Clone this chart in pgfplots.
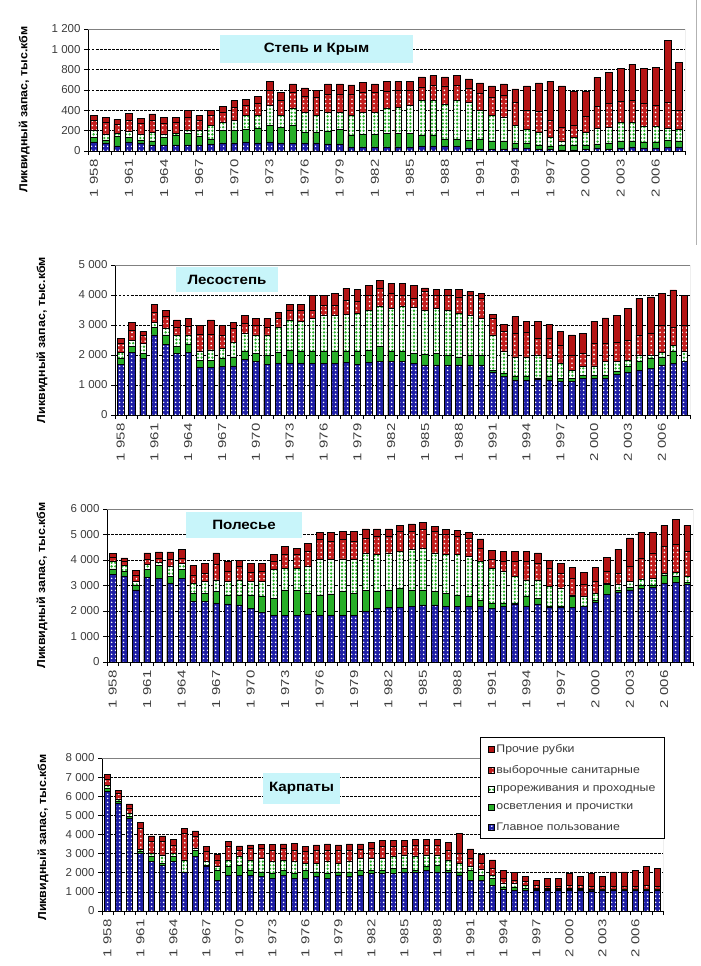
\documentclass[border=0pt]{standalone}
\usepackage{fontspec}
\setmainfont{Liberation Sans}
\usepackage{pgfplots}
\pgfplotsset{compat=1.18}
\usepackage{pgfplotstable}
\usetikzlibrary{patterns.meta}

\definecolor{blueS}{RGB}{30,30,165}
\definecolor{greenS}{RGB}{40,175,40}
\definecolor{redA}{RGB}{195,30,30}
\definecolor{redB}{RGB}{180,20,20}
\definecolor{boxcyan}{RGB}{200,245,250}
\definecolor{txtgray}{RGB}{60,60,60}

% columns: top of each layer, bottom to top
% a = Главное пользование, b = осветления, c = прореживания, d = выборочные санитарные, e = прочие (total)
\pgfplotstableread{
yr a b c d e
1958 90 130 200 300 350
1959 80 110 160 280 330
1960 50 140 170 260 310
1961 90 130 190 300 370
1962 80 110 160 270 320
1963 60 100 180 300 365
1964 60 130 160 270 330
1965 60 150 170 280 330
1966 60 170 200 330 400
1967 60 140 200 300 350
1968 70 120 250 350 400
1969 80 200 280 380 435
1970 80 200 300 430 495
1971 90 210 350 450 510
1972 80 220 350 470 535
1973 90 250 450 600 685
1974 80 230 350 500 575
1975 80 250 420 580 660
1976 80 180 380 540 620
1977 80 180 350 530 600
1978 70 190 380 560 660
1979 70 210 380 560 660
1980 40 150 350 560 650
1981 40 160 380 580 675
1982 40 160 380 580 660
1983 40 170 420 590 685
1984 40 170 430 600 685
1985 40 170 450 600 685
1986 50 150 500 630 728
1987 50 150 500 650 740
1988 50 120 460 640 728
1989 50 120 500 650 740
1990 30 110 480 620 710
1991 20 120 400 570 670
1992 20 100 350 530 640
1993 20 100 330 550 660
1994 30 80 250 480 610
1995 30 80 210 400 640
1996 20 60 180 390 670
1997 20 50 130 300 685
1998 10 60 100 230 640
1999 10 60 130 250 590
2000 20 60 180 340 590
2001 30 70 220 440 725
2002 20 80 230 470 770
2003 30 100 280 490 810
2004 40 100 280 500 855
2005 30 90 240 470 810
2006 30 90 240 450 825
2007 40 110 220 480 1090
2008 40 100 210 400 870
}\steppe

\pgfplotstableread{
yr a b c d e
1958 1700 1900 2100 2390 2550
1959 2090 2280 2500 2830 3080
1960 1900 2050 2400 2650 2800
1961 2670 2910 3090 3440 3690
1962 2360 2670 2890 3280 3500
1963 2060 2280 2670 2940 3170
1964 2090 2360 2670 2970 3220
1965 1580 1830 2130 2690 2980
1966 1580 1830 2170 2700 3170
1967 1610 1890 2220 2670 3000
1968 1640 1940 2420 2890 3080
1969 1860 2130 2720 3060 3310
1970 1780 2060 2670 2980 3220
1971 1690 2000 2670 2940 3220
1972 1720 2090 2940 3240 3410
1973 1720 2170 3170 3500 3690
1974 1720 2110 3110 3500 3690
1975 1720 2110 3220 3500 4000
1976 1720 2110 3330 3670 4000
1977 1720 2110 3330 3670 4060
1978 1760 2130 3360 3830 4220
1979 1690 2130 3390 3780 4200
1980 1760 2170 3500 4000 4310
1981 1800 2280 3610 4220 4500
1982 1800 2130 3560 4060 4390
1983 1780 2110 3610 4000 4390
1984 1720 2060 3580 3890 4310
1985 1670 2020 3500 4110 4240
1986 1670 2060 3560 4000 4200
1987 1670 2000 3500 4000 4200
1988 1670 1940 3390 3940 4200
1989 1670 1980 3330 4000 4110
1990 1670 2000 3220 3890 4060
1991 1440 1500 2670 3220 3360
1992 1280 1390 2130 2780 3030
1993 1170 1280 1940 2720 3280
1994 1170 1280 1940 2760 3130
1995 1200 1240 2000 2560 3130
1996 1170 1280 1890 2560 3020
1997 1130 1220 1720 2330 2800
1998 1110 1220 1500 2000 2670
1999 1220 1330 1610 2060 2720
2000 1220 1310 1640 2390 3130
2001 1220 1330 1780 2390 3240
2002 1360 1470 1780 2440 3330
2003 1440 1610 1830 2500 3560
2004 1500 1780 2000 2670 3890
2005 1560 1890 2000 2720 3940
2006 1670 1940 2090 3000 4060
2007 1720 2110 2330 2940 4170
2008 1780 1800 2130 3000 4000
}\forest

\pgfplotstableread{
yr a b c d e
1958 3450 3650 3950 4100 4250
1959 3380 3550 3780 3950 4080
1960 2830 2990 3160 3420 3590
1961 3330 3620 3820 4040 4280
1962 3290 3780 3910 4080 4320
1963 3090 3360 3750 4010 4320
1964 3290 3620 3880 4080 4430
1965 2370 2700 3090 3420 3780
1966 2370 2700 3160 3490 3880
1967 2300 2760 3220 3820 4280
1968 2280 2630 3160 3550 3950
1969 2240 2630 3220 3750 3970
1970 2110 2630 3160 3510 3880
1971 1930 2570 3160 3550 3880
1972 1840 2500 3620 3950 4210
1973 1840 2830 3680 4210 4540
1974 1840 2830 3680 4210 4470
1975 1880 2700 3750 4340 4640
1976 1840 2630 4010 4800 5070
1977 1840 2670 4010 4740 5070
1978 1840 2760 4040 4800 5110
1979 1840 2700 4010 4740 5110
1980 1970 2800 4250 4870 5220
1981 2110 2760 4210 4930 5220
1982 2140 2830 4280 4930 5220
1983 2140 2890 4340 5130 5360
1984 2170 2830 4410 5130 5420
1985 2240 2830 4470 5200 5490
1986 2240 2760 4280 5130 5330
1987 2170 2700 4210 4990 5200
1988 2170 2630 4210 4930 5160
1989 2170 2570 4140 4870 5090
1990 2170 2430 3950 4470 4830
1991 2110 2300 3680 4010 4370
1992 2170 2300 3550 3950 4340
1993 2280 2300 3360 3950 4340
1994 2200 2570 3220 3950 4340
1995 2280 2500 3220 3880 4280
1996 2140 2200 2960 3680 3970
1997 2140 2200 2890 3490 3880
1998 2140 2570 2630 3290 3710
1999 2170 2200 2570 3030 3510
2000 2330 2430 2700 3160 3710
2001 2660 3030 3090 3550 4100
2002 2720 2830 3030 3490 4430
2003 2830 2930 3160 3750 4870
2004 2890 2990 3250 4080 5090
2005 2920 2990 3290 4280 5090
2006 3070 3420 3490 4540 5360
2007 3120 3380 3510 4610 5590
2008 3030 3120 3360 4340 5360
}\polesie

\pgfplotstableread{
yr a b c d e
1958 6260 6440 6560 6880 7140
1959 5610 5740 5860 6180 6300
1960 4860 4950 5120 5390 5600
1961 3020 3110 3230 4330 4630
1962 2580 2880 3020 3630 3930
1963 2400 2490 2930 3630 3930
1964 2580 2840 3020 3460 3750
1965 2000 2050 2670 4070 4330
1966 2840 3190 3280 3890 4190
1967 2320 2400 2580 3110 3370
1968 1610 2140 2320 2670 2980
1969 1880 2320 2670 3370 3630
1970 1880 2400 2840 3190 3400
1971 1880 2140 2670 3280 3460
1972 1790 2050 2750 3280 3490
1973 1700 1960 2580 3190 3490
1974 1880 2140 2670 3280 3510
1975 1700 1960 2580 3190 3540
1976 1700 2140 2490 3110 3370
1977 1790 2050 2490 3190 3460
1978 1700 1960 2580 3190 3510
1979 1880 2050 2490 3190 3460
1980 1790 2050 2580 3190 3510
1981 1880 2140 2750 3230 3510
1982 1960 2140 2750 3280 3600
1983 1960 2140 2750 3370 3680
1984 1960 2230 2840 3370 3680
1985 2050 2230 2930 3370 3680
1986 2000 2140 2880 3460 3750
1987 2110 2320 2930 3460 3750
1988 2050 2400 2930 3460 3750
1989 2000 2140 2670 3190 3600
1990 1880 2050 2490 3020 4070
1991 1610 2140 2320 2750 3250
1992 1610 1880 2180 2490 2980
1993 1350 1700 1880 2230 2670
1994 1120 1260 1440 1700 2140
1995 1090 1260 1440 1610 2000
1996 1090 1180 1350 1530 1790
1997 1090 1120 1180 1350 1610
1998 1090 1120 1180 1300 1700
1999 1090 1120 1180 1300 1700
2000 1090 1120 1180 1350 1960
2001 1090 1120 1180 1350 1790
2002 1050 1080 1150 1300 1960
2003 1080 1100 1150 1300 1820
2004 1080 1100 1150 1300 2050
2005 1080 1100 1150 1300 2050
2006 1080 1100 1150 1300 2140
2007 1080 1100 1150 1350 2350
2008 1080 1100 1150 1300 2230
}\carpaty

\pgfplotsset{
  sA/.style={draw=black, line width=0.6pt, bar shift=0pt, preaction={fill=blueS},
    pattern={Dots[radius=1pt, distance=4pt]}, pattern color=white},
  sB/.style={draw=black, line width=0.6pt, bar shift=0pt, fill=greenS},
  sC/.style={draw=black, line width=0.6pt, bar shift=0pt, preaction={fill=white},
    pattern={Dots[radius=1.3pt, distance=3.6pt]}, pattern color=greenS},
  sD/.style={draw=black, line width=0.6pt, bar shift=0pt, preaction={fill=redA},
    pattern={Dots[radius=0.9pt, distance=4.4pt]}, pattern color=white},
  sE/.style={draw=black, line width=0.6pt, bar shift=0pt, fill=redB},
  panel/.style={
    scale only axis, anchor=south west,
    xmin=1957.5, xmax=2008.5, ymin=0,
    enlargelimits=false,
    axis x line=bottom, axis y line=left,
    axis line style={-, black, line width=0.7pt},
    ybar, bar width=0.58,
    tick align=outside, major tick length=4pt,
    tick style={black, line width=0.6pt},
    xtick={1957.5,1958.5,...,2008.5}, xticklabels={},
    extra x ticks={1958,1961,...,2006},
    extra x tick labels={1 958,1 961,1 964,1 967,1 970,1 973,1 976,1 979,1 982,1 985,1 988,1 991,1 994,1 997,2 000,2 003,2 006},
    extra x tick style={tick style={draw=none}},
    xticklabel style={font=\fontsize{11.5}{13}\selectfont, text=txtgray, rotate=90, anchor=east, xscale=1.3},
    yticklabel style={font=\fontsize{11.5}{13}\selectfont, text=txtgray},
    /pgf/number format/.cd, 1000 sep={\ }, assume math mode=true, /pgfplots/.cd,
    ymajorgrids, major grid style={black, line width=0.7pt, dash pattern=on 2.5pt off 1.5pt},
    ylabel={Ликвидный запас, тыс.кбм},
    ylabel style={font=\bfseries\fontsize{11.5}{13}\selectfont, anchor=center, xscale=1.08},
    before end axis/.code={\draw[gray, line width=0.7pt] (rel axis cs:0,1) -- (rel axis cs:1,1) -- (rel axis cs:1,0);},
  },
}

\newcommand\fivebars[1]{%
  \addplot[sE] table[x=yr,y=e]{#1};
  \addplot[sD] table[x=yr,y=d]{#1};
  \addplot[sC] table[x=yr,y=c]{#1};
  \addplot[sB] table[x=yr,y=b]{#1};
  \addplot[sA] table[x=yr,y=a]{#1};
}

\begin{document}
\begin{tikzpicture}
\path[use as bounding box] (0,0) rectangle (701pt,-966pt);
\draw[gray!60, line width=0.6pt] (696pt,0pt) -- (696pt,-245pt);

% Степь и Крым
\begin{axis}[panel, at={(88pt,-151pt)}, width=597pt, height=122pt,
  ymax=1200, ytick={0,200,...,1200},
  ylabel style={at={(axis description cs:-0.107,0.34)}}]
\fivebars{\steppe}
\end{axis}

% Лесостепь
\begin{axis}[panel, at={(115pt,-415pt)}, width=575pt, height=150pt,
  ymax=5000, ytick={0,1000,...,5000},
  ylabel style={at={(axis description cs:-0.127,0.5)}}]
\fivebars{\forest}
\end{axis}

% Полесье
\begin{axis}[panel, at={(107pt,-662pt)}, width=586pt, height=153pt,
  ymax=6000, ytick={0,1000,...,6000},
  ylabel style={at={(axis description cs:-0.111,0.5)}}]
\fivebars{\polesie}
\end{axis}

% Карпаты
\begin{axis}[panel, at={(102pt,-911pt)}, width=561pt, height=153pt,
  ymax=8000, ytick={0,1000,...,8000},
  ylabel style={at={(axis description cs:-0.105,0.48)}},
  legend cell align=left,
  legend image code/.code={\draw[#1] (0pt,-3pt) rectangle (6pt,3pt);},
  legend style={at={(0.674,1.137)}, anchor=north west, draw=black, line width=0.9pt,
    fill=white, font=\fontsize{11}{12}\selectfont, text=txtgray,
    row sep=7pt, inner xsep=7pt, inner ysep=5pt,
    nodes={xscale=1.12}},
  legend entries={Прочие рубки, выборочные санитарные, прореживания и проходные, осветления и прочистки, Главное пользование}]
\fivebars{\carpaty}
\end{axis}

\tikzset{ttl/.style={fill=boxcyan, inner sep=0pt, font=\bfseries\fontsize{13.5}{15}\selectfont}}
\node[ttl, minimum width=193pt, minimum height=28pt] at (316.5pt,-49pt) {\scalebox{1.12}[1]{Степь и Крым}};
\node[ttl, minimum width=102pt, minimum height=25pt] at (227pt,-279.5pt) {\scalebox{1.12}[1]{Лесостепь}};
\node[ttl, minimum width=116pt, minimum height=26pt] at (244pt,-525pt) {\scalebox{1.12}[1]{Полесье}};
\node[ttl, minimum width=77pt, minimum height=31pt] at (301.5pt,-788.5pt) {\scalebox{1.12}[1]{Карпаты}};
\end{tikzpicture}
\end{document}
